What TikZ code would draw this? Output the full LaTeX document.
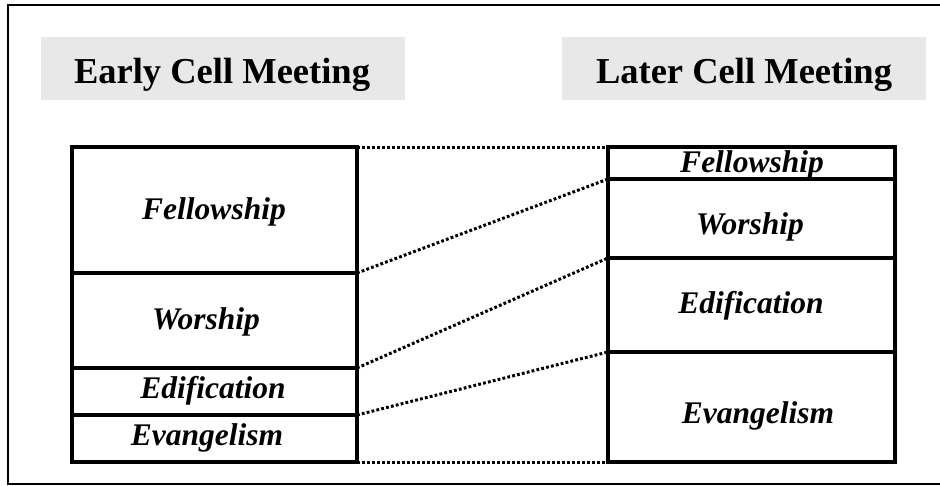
\documentclass[tikz,border=0pt]{standalone}
\usepackage{fontspec}
\setmainfont{Liberation Serif}
\definecolor{titlegray}{HTML}{E8E8E8}
\begin{document}
\begin{tikzpicture}[x=1pt,y=-1pt,
  titletext/.style={font=\fontsize{36.5}{40}\selectfont\bfseries,inner sep=0pt,anchor=base},
  rowbox/.style={draw,line width=3.5pt,inner sep=0pt,outer sep=0pt,anchor=north west,
    minimum width=#1},
  lbl/.style={font=\fontsize{31.5}{34}\selectfont\bfseries\itshape,inner sep=0pt,anchor=base},
  link/.style={line width=3pt,dash pattern=on 2.8pt off 2.2pt}
]
\clip (0,0) rectangle (940,485);
% outer frame (right side falls outside the picture)
\draw[line width=1.8pt] (950,5) -- (8,5) -- (8,484) -- (950,484);
% titles
\fill[titlegray] (41,37) rectangle (405,100);
\fill[titlegray] (562,37) rectangle (926,100);
\node[titletext] (tl) at (222,83) {Early Cell Meeting};
\node[titletext] (tr) at (744,83) {Later Cell Meeting};
% left stack
\node[rowbox=285pt,minimum height=126pt] (lfel) at (72,147) {};
\node[rowbox=285pt,minimum height=95pt] (lwor) at (72,273) {};
\node[rowbox=285pt,minimum height=47pt] (ledi) at (72,368) {};
\node[rowbox=285pt,minimum height=47pt] (leva) at (72,415) {};
% right stack
\node[rowbox=287pt,minimum height=32pt] (rfel) at (608,147) {};
\node[rowbox=287pt,minimum height=79pt] (rwor) at (608,179) {};
\node[rowbox=287pt,minimum height=94pt] (redi) at (608,258) {};
\node[rowbox=287pt,minimum height=110pt] (reva) at (608,352) {};
% labels
\node[lbl] at (214,219) {Fellowship};
\node[lbl] at (206,329) {Worship};
\node[lbl] at (213,398) {Edification};
\node[lbl] at (207,445) {Evangelism};
\node[lbl] at (752,172) {Fellowship};
\node[lbl] at (750,234) {Worship};
\node[lbl] at (751,313) {Edification};
\node[lbl] at (758,423) {Evangelism};
% connectors
\draw[link] (lfel.north east) -- (rfel.north west);
\draw[link] (lwor.north east) -- (rwor.north west);
\draw[link] (ledi.north east) -- (redi.north west);
\draw[link] (leva.north east) -- (reva.north west);
\draw[link] (leva.south east) -- (reva.south west);
\end{tikzpicture}
\end{document}
